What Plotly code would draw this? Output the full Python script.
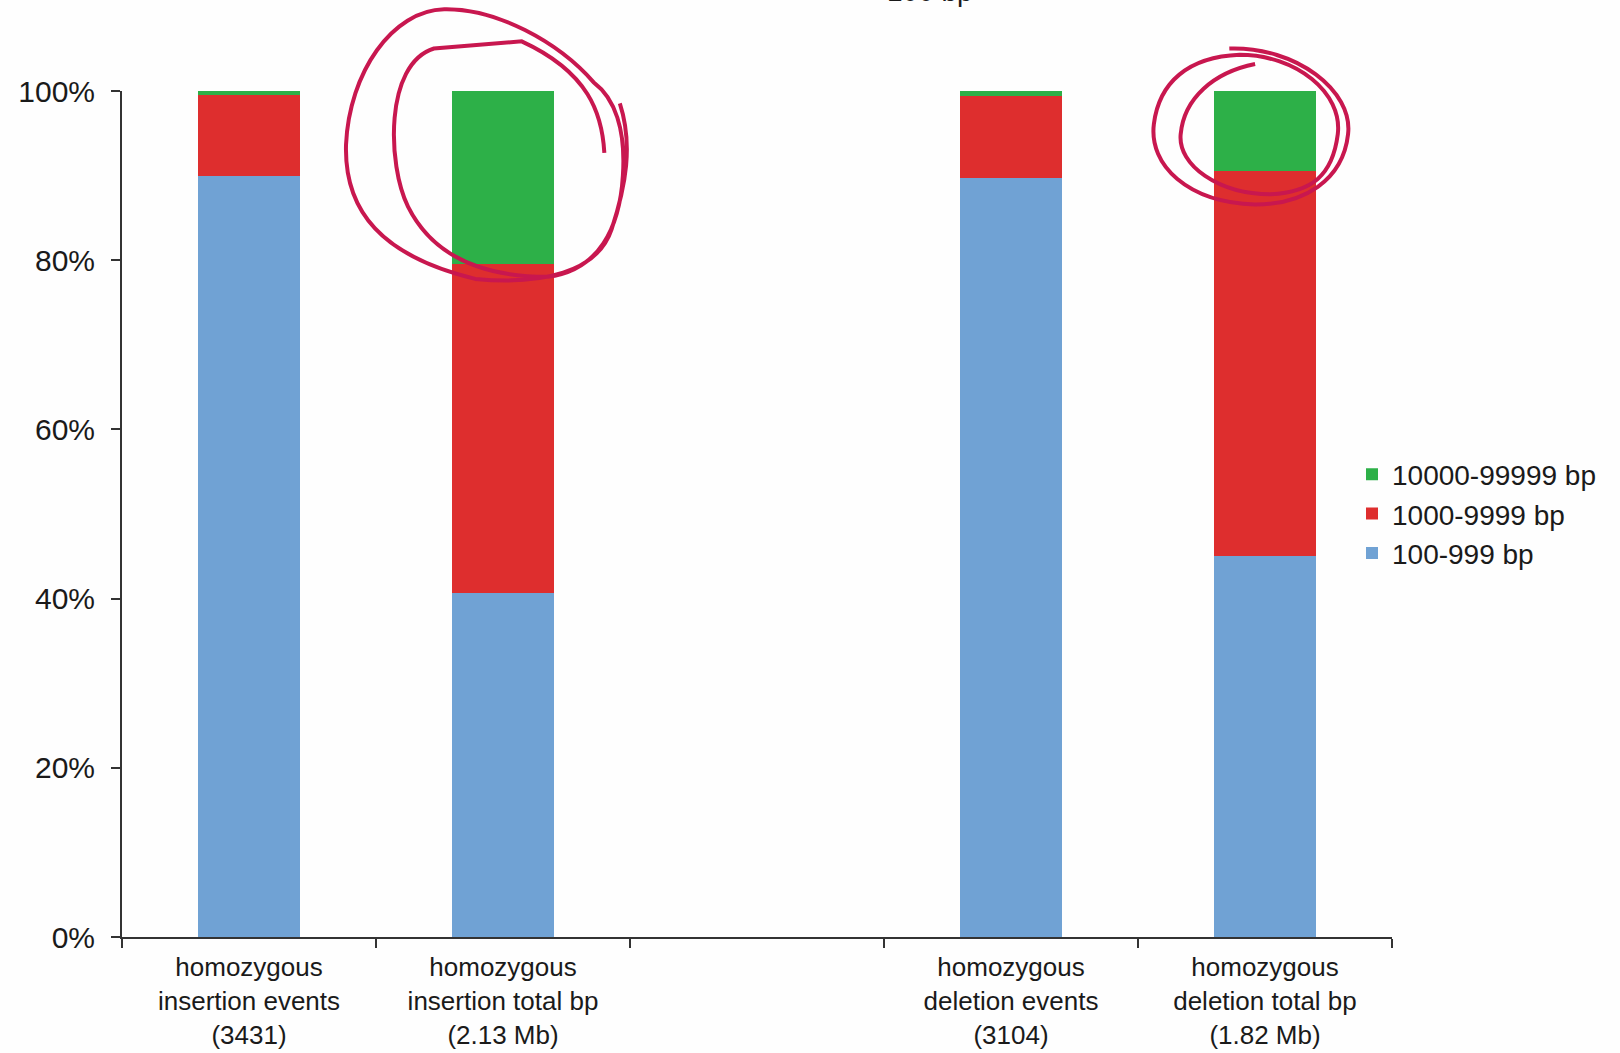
import plotly.graph_objects as go

categories = [
    "homozygous<br>insertion events<br>(3431)",
    "homozygous<br>insertion total bp<br>(2.13 Mb)",
    " ",
    "homozygous<br>deletion events<br>(3104)",
    "homozygous<br>deletion total bp<br>(1.82 Mb)",
]
series_names = ["100-999 bp", "1000-9999 bp", "10000-99999 bp"]
small = [90.0, 40.7, None, 89.7, 45.0]
medium = [9.5, 38.9, None, 9.7, 45.5]
large = [0.5, 20.4, None, 0.6, 9.5]
colors = ["#70A2D4", "#DE2E2E", "#2DB048"]
y_ticks = [0, 20, 40, 60, 80, 100]
y_tick_labels = ["0%", "20%", "40%", "60%", "80%", "100%"]

W, H = 1620, 1053
L, R, T, B = 122, 1392, 91, 937

fig = go.Figure()
for name, vals, col in zip(series_names, [small, medium, large], colors):
    fig.add_trace(go.Bar(x=categories, y=vals, name=name, marker_color=col,
                         marker_line_width=0))

def to_paper(pts):
    out = []
    for x, y in pts:
        X, Y = x * 1.033, y * 1.033
        out.append(((X - L) / (R - L), (B - Y) / (B - T)))
    return out

def path_from(cmds):
    s = ""
    for c, pts in cmds:
        pp = to_paper(pts)
        s += c + " " + " ".join(f"{a:.4f},{b:.4f}" for a, b in pp) + " "
    return s.strip()

circle1 = [
    ("M", [(585, 148)]),
    ("C", [(583, 110), (570, 70), (505, 40)]),
    ("L", [(420, 47)]),
    ("C", [(372, 62), (375, 160), (395, 200)]),
    ("C", [(420, 250), (470, 268), (530, 268)]),
    ("C", [(580, 262), (600, 220), (603, 170)]),
    ("C", [(606, 125), (595, 95), (575, 80)]),
    ("C", [(540, 40), (480, 8), (430, 9)]),
    ("C", [(380, 10), (338, 70), (335, 140)]),
    ("C", [(333, 205), (370, 248), (460, 270)]),
    ("C", [(525, 276), (578, 264), (592, 222)]),
    ("C", [(606, 180), (613, 140), (600, 100)]),
]
circle2 = [
    ("M", [(1190, 47)]),
    ("C", [(1255, 45), (1310, 88), (1305, 130)]),
    ("C", [(1300, 175), (1262, 198), (1215, 198)]),
    ("C", [(1150, 196), (1112, 160), (1117, 120)]),
    ("C", [(1122, 80), (1150, 55), (1200, 53)]),
    ("C", [(1255, 53), (1300, 90), (1295, 130)]),
    ("C", [(1290, 170), (1270, 186), (1230, 188)]),
    ("C", [(1180, 188), (1140, 160), (1143, 130)]),
    ("C", [(1146, 95), (1175, 70), (1215, 62)]),
]
shapes = [
    dict(type="path", xref="paper", yref="paper", path=path_from(c),
         line=dict(color="#C8174F", width=4), fillcolor="rgba(0,0,0,0)")
    for c in (circle1, circle2)
]

fig.update_layout(
    width=W, height=H,
    margin=dict(l=L, r=W - R, t=T, b=H - B, pad=0, autoexpand=False),
    barmode="stack", bargap=0.6,
    paper_bgcolor="#FEFEFE", plot_bgcolor="#FEFEFE",
    font=dict(family="Liberation Sans, Arial", size=26, color="#1a1a1a"),
    showlegend=True,
    legend=dict(x=(1352 - L) / (R - L), xanchor="left",
                y=(B - 514) / (B - T), yanchor="middle",
                traceorder="reversed", font=dict(size=28, color="#1a1a1a"),
                itemsizing="constant", tracegroupgap=0, bgcolor="rgba(0,0,0,0)",
                itemwidth=30),
    shapes=shapes,
    annotations=[dict(text="100 bp", xref="paper", yref="paper",
                      x=(930 - L) / (R - L), y=(B - 9) / (B - T),
                      xanchor="center", yanchor="bottom", showarrow=False,
                      font=dict(size=28, color="#1a1a1a"))],
)
fig.update_xaxes(showline=True, linecolor="#333333", linewidth=2,
                 ticks="outside", tickson="boundaries", ticklen=9,
                 tickcolor="#333333", tickwidth=2, showgrid=False,
                 ticklabelstandoff=6, automargin=False,
                 tickfont=dict(size=26, color="#1a1a1a"))
fig.update_yaxes(range=[0, 100], tickvals=y_ticks, ticktext=y_tick_labels,
                 showline=True, linecolor="#333333", linewidth=2,
                 ticks="outside", ticklen=9, tickcolor="#333333", tickwidth=2,
                 showgrid=False, zeroline=False, ticklabelstandoff=10,
                 automargin=False,
                 tickfont=dict(size=30, color="#1a1a1a"))

fig.write_html("out.html")
